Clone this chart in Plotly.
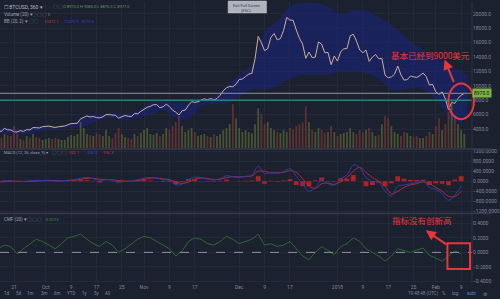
import plotly.graph_objects as go
import pandas as pd

# ---------------- data ----------------
price_start = "2017-09-16"
close = [3700, 3690, 4100, 3900, 3880, 3620, 3610,
         3790, 3680, 3930, 3890, 4210, 4190, 4160,
         4340, 4400, 4410, 4310, 4220, 4320, 4370,
         4440, 4610, 4770, 4780, 4820, 5430, 5640,
         5830, 5680, 5750, 5600, 5570, 5710, 6000,
         6010, 5980, 5900, 5520, 5740, 5890, 5780,
         5750, 6150, 6130, 6470, 6750, 7030, 7160,
         7390, 7390, 6960, 7100, 7460, 7140, 6620,
         6360, 5950, 6560, 6640, 7310, 7810, 7710,
         7790, 8040, 8200, 8070, 8250, 8060, 8240,
         8700, 9330, 9740, 9910, 9880, 10230, 10880,
         10950, 11290, 11640, 11720, 13750, 16870, 16000,
         14900, 15160, 16730, 17280, 16400, 16570, 17700,
         19500, 19140, 19110, 17780, 16620, 15800, 13830,
         14700, 13930, 14000, 16100, 15800, 14600, 14650,
         12950, 14150, 13440, 14750, 15160, 15180, 16950,
         17170, 16220, 14980, 14600, 14970, 13400, 13980,
         14360, 13770, 13820, 11500, 11120, 11250, 11630,
         12760, 11530, 10800, 10870, 11360, 11260, 11170,
         11440, 11790, 11280, 10110, 10220, 9170, 8830,
         9170, 8200, 6700, 7700, 7580, 8260, 8690,
         8970]
volume = [12, 10, 14, 13, 12, 22, 14,
          9, 8, 12, 10, 14, 11, 10,
          8, 9, 10, 9, 10, 9, 8,
          8, 11, 13, 12, 14, 26, 20,
          14, 13, 12, 15, 14, 12, 18,
          12, 10, 15, 20, 14, 11, 10,
          9, 14, 12, 15, 18, 20, 14,
          13, 15, 12, 14, 20, 18, 22,
          26, 32, 22, 16, 18, 20, 16,
          12, 13, 14, 12, 11, 14, 12,
          14, 18, 20, 24, 44, 30, 20,
          16, 18, 16, 15, 24, 40, 34,
          24, 26, 20, 18, 16, 15, 18,
          16, 20, 18, 22, 24, 26, 42,
          26, 18, 16, 20, 18, 15, 16,
          22, 16, 12, 14, 15, 16, 20,
          16, 14, 18, 16, 18, 20, 16,
          12, 13, 24, 32, 30, 22, 16,
          14, 12, 16, 15, 12, 11, 12,
          10, 10, 12, 16, 14, 22, 30,
          18, 24, 36, 48, 30, 24, 18,
          14]

band_upper = [4100, 4200, 4000, 4400, 4600, 4500, 5000, 6000, 6000, 6300,
              6100, 6500, 7700, 7800, 7600, 7600, 8300, 8500, 10000, 11500,
              13000, 17500, 19000, 21000, 21500, 21500, 21000, 20000, 20500, 20500,
              19500, 18500, 17000, 15500, 14500, 13500, 12500, 11500]
band_lower = [3400, 3400, 3300, 3600, 4000, 4100, 4200, 4500, 5300, 5500,
              5300, 5600, 6000, 6600, 5500, 5400, 7200, 7500, 7600, 8500,
              9500, 9500, 10000, 11000, 11500, 11500, 11500, 12000, 12000, 11800,
              11000, 9500, 9500, 9800, 9000, 7000, 5000, 5500]

macd_line = [-25, 10, 15, -15, -10, 10, 35, 30, 35, 10,
             10, 40, 60, 120, 150, 100, 30, 60, 50, -30,
             -10, -5, 60, 120, 150, 120, 60, 30, -140, -120,
             60, 160, 140, 80, 50, 100, 220, 180, 160, 200,
             240, 600, 300, 350, 320, 380, 500, 200, -100, -400,
             -250, 50, -100, -150, 100, 250, 650, 550, 150, 0,
             -50, -400, -580, -200, -150, -100, -50, 30, -250, -330,
             -500, -760, -550, -200]
macd_signal = [-30, -20, -5, 0, -10, -5, 10, 25, 30, 25,
               15, 25, 40, 70, 110, 115, 80, 65, 60, 25,
               5, 0, 25, 70, 120, 130, 95, 65, -20, -90,
               -30, 80, 130, 105, 70, 80, 150, 180, 170, 185,
               210, 400, 400, 330, 340, 350, 420, 350, 100, -200,
               -280, -100, -75, -125, -25, 150, 400, 550, 350, 150,
               0, -200, -500, -400, -250, -150, -100, -30, -100, -250,
               -400, -600, -620, -400]
macd_hist = [5, 30, 20, -15, -5, 15, 25, 5, 5, -15,
             -5, 15, 20, 50, 40, -15, -50, 0, -10, -55,
             -15, -5, 35, 50, 30, -10, -35, -35, -120, -30,
             90, 80, 10, -25, -20, 20, 70, 0, -10, 15,
             30, 200, -100, 20, -20, 30, 80, -150, -200, -200,
             30, 150, -25, -25, 120, 100, 250, 0, -200, -150,
             -50, -200, -80, 200, 100, 50, 50, 60, -150, -80,
             -100, -160, 70, 200]

cmf = [0.05, 0.10, 0.08, -0.02, 0.05, 0.12, 0.18, 0.15, 0.10, 0.05,
       0.12, 0.20, 0.22, 0.25, 0.18, 0.12, 0.08, 0.15, 0.10, 0.00,
       0.05, 0.12, 0.18, 0.22, 0.20, 0.15, 0.10, 0.05, -0.05, 0.02,
       0.15, 0.20, 0.18, 0.12, 0.10, 0.15, 0.22, 0.18, 0.12, 0.15,
       0.18, 0.25, 0.10, 0.12, 0.08, 0.10, 0.15, 0.05, -0.05, -0.10,
       0.00, 0.08, 0.02, -0.03, 0.08, 0.12, 0.20, 0.15, 0.05, 0.00,
       -0.05, -0.12, -0.05, 0.05, 0.02, 0.00, 0.03, 0.06, -0.04, -0.08,
       -0.12, -0.05, 0.02, -0.02]

last_price = 8970
level_line = 8000

tick_dates = ["2017-09-21", "2017-10-01", "2017-10-09", "2017-10-17", "2017-10-25",
              "2017-11-01", "2017-11-09", "2017-11-17", "2017-12-01", "2017-12-09",
              "2017-12-17", "2018-01-01", "2018-01-09", "2018-01-17", "2018-01-25",
              "2018-02-01", "2018-02-09"]
tick_text = ["21", "Oct", "9", "17", "25", "Nov", "9", "17", "Dec", "9", "17",
             "2018", "9", "17", "25", "Feb", "9"]

price_ticks = [4000, 6000, 8000, 10000, 12000, 14000, 16000, 18000, 20000]
macd_ticks = [-1200, -800, -400, 0, 400, 800, 1200]
cmf_ticks = [-0.4, -0.2, 0.0, 0.2, 0.4]

# ---------------- geometry ----------------
W, H = 500, 299
ML, MR, MT, MB = 0, 20, 0, 16
PW = W - ML - MR
PH = H - MT - MB


def fx(x):
    return (x - ML) / PW


def fy(y):
    return (H - MB - y) / PH


BG = "#1c2130"
GRID = "#232939"
TXT = "#80869a"
RED = "#e8363a"

d_daily = pd.date_range(price_start, periods=len(close), freq="D")
d_2 = pd.date_range(price_start, periods=len(macd_line), freq="2D")
d_4 = pd.date_range(price_start, periods=len(band_upper), freq="4D")

UP = "rgba(105,118,48,0.6)"
DN = "rgba(140,62,48,0.6)"
vol_colors = [UP]
for i in range(1, len(close)):
    vol_colors.append(UP if close[i] >= close[i - 1] else DN)

fig = go.Figure()

# volume (behind)
fig.add_trace(go.Bar(x=d_daily, y=volume, marker_color=vol_colors,
                     marker_line_width=0, width=86400000 * 0.55,
                     xaxis="x", yaxis="y4", hoverinfo="skip"))
# bollinger band
fig.add_trace(go.Scatter(x=d_4, y=band_lower, mode="lines", line=dict(width=0, shape="spline"),
                         xaxis="x", yaxis="y", hoverinfo="skip"))
fig.add_trace(go.Scatter(x=d_4, y=band_upper, mode="lines", line=dict(width=0, shape="spline"),
                         fill="tonexty", fillcolor="rgba(26,36,130,0.55)",
                         xaxis="x", yaxis="y", hoverinfo="skip"))
# price
fig.add_trace(go.Scatter(x=d_daily, y=close, mode="lines",
                         line=dict(color="#cfae98", width=1),
                         xaxis="x", yaxis="y"))

# MACD
fig.add_trace(go.Bar(x=d_2, y=macd_hist, marker_color="rgba(210,35,40,0.8)",
                     marker_line_width=0, width=86400000 * 1.5,
                     xaxis="x", yaxis="y2"))
fig.add_trace(go.Scatter(x=d_2, y=macd_signal, mode="lines",
                         line=dict(color="#b52a2c", width=1, shape="spline"),
                         xaxis="x", yaxis="y2"))
fig.add_trace(go.Scatter(x=d_2, y=macd_line, mode="lines",
                         line=dict(color="#2f3cb0", width=1, shape="spline"),
                         xaxis="x", yaxis="y2"))

# CMF
fig.add_trace(go.Scatter(x=d_2, y=cmf, mode="lines",
                         line=dict(color="#2a6a30", width=1),
                         xaxis="x", yaxis="y3"))

yax_common = dict(side="right", anchor="x", showgrid=True, gridcolor=GRID, gridwidth=1,
                  zeroline=False, showline=False, ticks="",
                  tickfont=dict(size=5, color=TXT, family="Roboto"))

fig.update_layout(
    width=W, height=H,
    margin=dict(l=ML, r=MR, t=MT, b=MB),
    paper_bgcolor=BG, plot_bgcolor=BG,
    showlegend=False, barmode="overlay",
    xaxis=dict(type="date", domain=[0, 1], anchor="y3",
               range=["2017-09-16 14:00", "2018-02-12 10:00"],
               tickvals=tick_dates, ticktext=tick_text,
               showgrid=True, gridcolor=GRID, zeroline=False, showline=False, ticks="",
               tickfont=dict(size=5, color=TXT, family="Roboto")),
    yaxis=dict(domain=[fy(147), 1], range=[1380, 21650],
               tickvals=price_ticks, tickformat=".1f", **yax_common),
    yaxis2=dict(domain=[fy(212), fy(149)], range=[-1250, 1250],
                tickvals=macd_ticks, tickformat=".4f", **yax_common),
    yaxis3=dict(domain=[0, fy(214)], range=[-0.42, 0.52],
                tickvals=cmf_ticks, tickformat=".4f", **yax_common),
    yaxis4=dict(domain=[fy(147), 1], range=[0, 147], overlaying="y",
                visible=False, anchor="x"),
)

shapes = []
# horizontal price lines
shapes.append(dict(type="line", xref="paper", x0=0, x1=1, yref="y", y0=last_price, y1=last_price,
                   line=dict(color="#8c909a", width=1)))
shapes.append(dict(type="line", xref="paper", x0=0, x1=1, yref="y", y0=level_line, y1=level_line,
                   line=dict(color="#2a8074", width=1.5)))
# cmf zero dashed
shapes.append(dict(type="line", xref="paper", x0=0, x1=1, yref="y3", y0=0, y1=0,
                   line=dict(color="#8e929c", width=1, dash="dash")))
# panel separators
for yy in (148, 213):
    shapes.append(dict(type="line", xref="paper", yref="paper", x0=0, x1=fx(W),
                       y0=fy(yy), y1=fy(yy), line=dict(color="#343a4c", width=1.5)))
# right axis border
shapes.append(dict(type="line", xref="paper", yref="paper", x0=1, x1=1, y0=0, y1=1,
                   line=dict(color="#2c3244", width=1)))
# ellipse and rectangle highlights
shapes.append(dict(type="circle", xref="paper", yref="paper",
                   x0=fx(456), x1=fx(482), y0=fy(118), y1=fy(82),
                   line=dict(color=RED, width=2)))
shapes.append(dict(type="rect", xref="paper", yref="paper",
                   x0=fx(455), x1=fx(478), y0=fy(269), y1=fy(243),
                   line=dict(color=RED, width=2)))
# tooltip box
shapes.append(dict(type="rect", xref="paper", yref="paper",
                   x0=fx(232), x1=fx(271), y0=fy(11), y1=fy(-1),
                   fillcolor="#aeb2bc", line=dict(color="#c8cbd2", width=0.5)))
fig.update_layout(shapes=shapes)

ann = []


def txt(x, y, s, size=5, color=TXT, anchor="left", bg=None):
    d = dict(x=fx(x), y=fy(y), xref="paper", yref="paper", text=s, showarrow=False,
             xanchor=anchor, yanchor="middle",
             font=dict(size=size, color=color, family="Roboto"))
    if bg:
        d["bgcolor"] = bg
        d["borderpad"] = 0
    ann.append(d)


# legends top-left
txt(2, 5, "☐ BTCUSD, 360 ▾", 5, "#b7bac3")
txt(52, 5, "▢▢", 4.5, "#555b6c")
txt(62, 5, "O 8970.0 H 9085.0 L 8876.0 C 8977.0", 4, "#5d9b4a")
txt(2, 13, "Volume (20) ▾", 4.5, "#9ea2ad")
txt(30, 13, "▢▢▢", 4.5, "#555b6c")
txt(47, 13, "0", 4, "#5d9b4a")
txt(2, 20, "BB (20, 2) ▾", 4.5, "#9ea2ad")
txt(27, 20, "▢▢", 4.5, "#555b6c")
txt(43, 20, "10372.1", 4, "#c0392b")
txt(63, 20, "12470.9   8273.3", 4, "#3342c0")
# tooltip
txt(251, 3.5, "Exit Full Screen", 4, "#3a3f4c", "center")
txt(251, 8.5, "(ESC)", 4, "#3a3f4c", "center")
# MACD legend
txt(2, 152, "MACD (12, 26, close, 9) ▾", 4, "#9ea2ad")
txt(51, 152, "▢▢▢", 4.5, "#555b6c")
txt(67, 152, "-202.1", 4, "#d03030")
txt(85, 152, "-358.4", 4, "#3342c0")
txt(102, 152, "-156.3", 4, "#d03030")
# CMF legend
txt(2, 219, "CMF (20) ▾", 4.5, "#9ea2ad")
txt(25, 219, "▢▢▢", 4.5, "#555b6c")
txt(44, 219, "-0.0213", 4, "#2f9d3a")
# price label
ann.append(dict(x=1, y=last_price, xref="paper", yref="y", text="%.1f" % last_price,
                showarrow=False, xanchor="left", yanchor="middle", bgcolor="#7cb342",
                borderpad=1, font=dict(size=5, color="#10140c", family="Roboto")))
# bottom row
for xx, s in [(7, "1d"), (19, "5d"), (31, "1m"), (45, "3m"), (58, "6m"), (72, "YTD"),
              (86, "1y"), (99, "5y"), (109, "All")]:
    txt(xx, 294, s, 4.5, TXT, "center")
txt(430, 294, "19:48:48 (UTC)", 4.5, TXT, "center")
txt(452, 294, "%", 4.5, TXT, "center")
txt(463, 294, "log", 4.5, TXT, "center")
txt(479, 294, "auto", 4.5, "#3d8fd6", "center")
txt(494, 294, "⚙", 5, TXT, "center")

# red callouts
txt(438, 53, "基本已经到9000美元", 8.5, RED, "center")
ann[-1]["font"]["family"] = "Noto Sans CJK SC"
txt(429, 220, "指标没有创新高", 8.5, RED, "center")
ann[-1]["font"]["family"] = "Noto Sans CJK SC"
ann.append(dict(x=fx(452), y=fy(58), xref="paper", yref="paper", text="", showarrow=True,
                ax=10, ay=24, arrowhead=2, arrowsize=1, arrowwidth=2, arrowcolor=RED))
ann.append(dict(x=fx(433), y=fy(230), xref="paper", yref="paper", text="", showarrow=True,
                ax=22, ay=15, arrowhead=2, arrowsize=1, arrowwidth=2, arrowcolor=RED))

fig.update_layout(annotations=ann)

fig.write_html("out.html")
